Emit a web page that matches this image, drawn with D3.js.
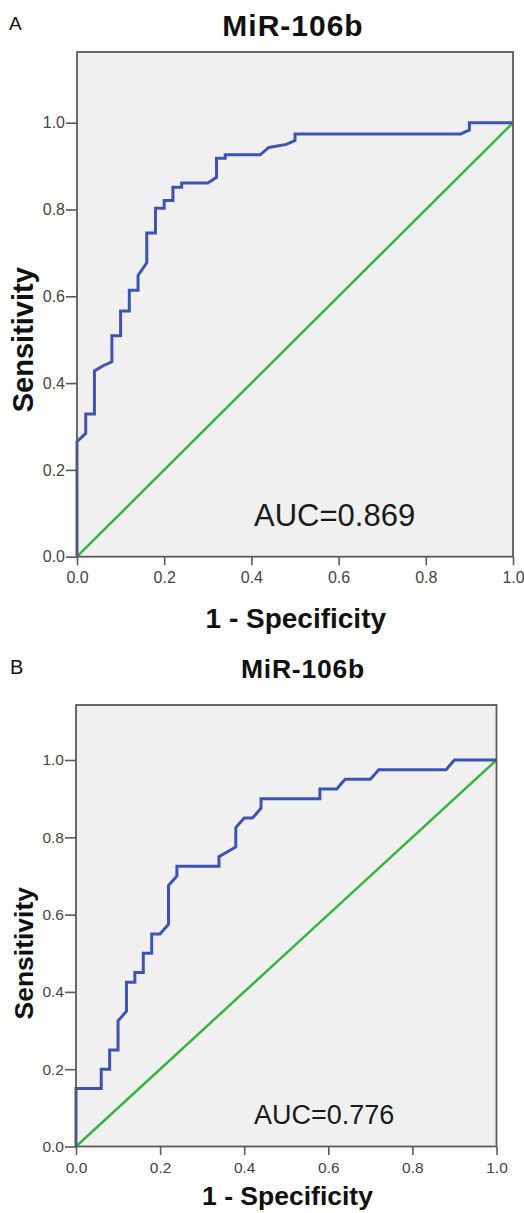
<!DOCTYPE html>
<html>
<head>
<meta charset="utf-8">
<script src="https://cdn.jsdelivr.net/npm/d3@7"></script>
<style>
  html, body { margin: 0; padding: 0; background: #ffffff; }
  svg { display: block; }
  text { font-family: "Liberation Sans", Arial, Helvetica, sans-serif; }
</style>
</head>
<body>
<svg id="chart" width="524" height="1213"></svg>
<script>
// ROC curve, cohort A: false positive rate (1 - specificity) and sensitivity
const fprA  = [0, 0,     0.02,  0.02,  0.04,  0.04,  0.06,  0.08,  0.08,  0.10,  0.10,  0.12,  0.12,  0.14,  0.14,  0.16,  0.16,  0.18,  0.18,  0.20,  0.20,  0.22,  0.22,  0.24,  0.24,  0.30,  0.32,  0.32,  0.34,  0.34,  0.42,  0.44,  0.48,  0.50,  0.50,  0.88,  0.90,  0.90, 1.00];
const sensA = [0, 0.265, 0.284, 0.329, 0.329, 0.428, 0.440, 0.449, 0.509, 0.509, 0.566, 0.566, 0.614, 0.614, 0.648, 0.677, 0.746, 0.746, 0.803, 0.803, 0.821, 0.821, 0.851, 0.851, 0.861, 0.861, 0.874, 0.918, 0.918, 0.926, 0.926, 0.943, 0.950, 0.959, 0.974, 0.974, 0.983, 1.00, 1.00];

// ROC curve, cohort B
const fprB  = [0, 0,    0.06, 0.06, 0.08, 0.08, 0.10, 0.10,  0.12, 0.12,  0.14,  0.14, 0.16, 0.16, 0.18, 0.18, 0.20, 0.22,  0.22,  0.24, 0.24,  0.34,  0.34, 0.38,  0.38,  0.40, 0.42, 0.44,  0.44, 0.58, 0.58,  0.62,  0.64, 0.70, 0.72,  0.88,  0.90, 1.00];
const sensB = [0, 0.15, 0.15, 0.20, 0.20, 0.25, 0.25, 0.325, 0.35, 0.425, 0.425, 0.45, 0.45, 0.50, 0.50, 0.55, 0.55, 0.575, 0.675, 0.70, 0.725, 0.725, 0.75, 0.775, 0.825, 0.85, 0.85, 0.875, 0.90, 0.90, 0.925, 0.925, 0.95, 0.95, 0.975, 0.975, 1.00, 1.00];

// Chance (reference) diagonal
const refFpr  = [0, 1];
const refSens = [0, 1];

const tickValues = [0, 0.2, 0.4, 0.6, 0.8, 1.0];
const panelLetters = ["A", "B"];
const titles = ["MiR-106b", "MiR-106b"];
const aucLabels = ["AUC=0.869", "AUC=0.776"];
const xTitle = "1 - Specificity";
const yTitle = "Sensitivity";

const zip = (xs, ys) => xs.map((x, i) => [x, ys[i]]);

// Layout of each panel (pixels)
const panels = [
  {
    letter: panelLetters[0], title: titles[0], auc: aucLabels[0],
    roc: zip(fprA, sensA),
    x0: 77, x1: 513, y0: 556.7, y1: 122.7, frameTop: 52,
    letterPos: [9, 29.5, 19],
    titlePos: [293, 36, 30, 1],
    aucPos: [254, 525.7, 31],
    xTitlePos: [295.8, 627.7, 28],
    yTitlePos: [33, 29],
    tickFont: 16
  },
  {
    letter: panelLetters[1], title: titles[1], auc: aucLabels[1],
    roc: zip(fprB, sensB),
    x0: 76, x1: 496.5, y0: 1146.5, y1: 760, frameTop: 705,
    letterPos: [10, 673.5, 20],
    titlePos: [303, 678, 26.5, 0.8],
    aucPos: [254, 1124, 27],
    xTitlePos: [287.5, 1205, 26.5],
    yTitlePos: [33, 26.5],
    tickFont: 15.5
  }
];

const svg = d3.select("#chart");
const blue = "#3e54b3";
const green = "#33b53f";
const frameColor = "#5a5a5a";

panels.forEach(p => {
  const g = svg.append("g");
  const x = d3.scaleLinear().domain([0, 1]).range([p.x0, p.x1]);
  const y = d3.scaleLinear().domain([0, 1]).range([p.y0, p.y1]);

  // plot background
  g.append("rect")
    .attr("x", x(0)).attr("y", p.frameTop)
    .attr("width", x(1) - x(0)).attr("height", y(0) - p.frameTop)
    .attr("fill", "#f0f0f0");

  // axes
  const yAxis = d3.axisLeft(y).tickValues(tickValues).tickFormat(d3.format(".1f"))
    .tickSize(11).tickPadding(1);
  const xAxis = d3.axisBottom(x).tickValues(tickValues).tickFormat(d3.format(".1f"))
    .tickSize(8.5).tickPadding(6.5);

  const ya = g.append("g").attr("transform", `translate(${x(0)},0)`).call(yAxis);
  const xa = g.append("g").attr("transform", `translate(0,${y(0)})`).call(xAxis);
  [ya, xa].forEach(a => {
    a.select(".domain").remove();
    a.selectAll(".tick line").attr("stroke", frameColor).attr("stroke-width", 1.6);
    a.selectAll(".tick text")
      .attr("fill", "#444")
      .style("font-size", p.tickFont + "px")
      .style("font-family", '"Liberation Sans", Arial, sans-serif');
  });

  // chance diagonal
  const line = d3.line().x(d => x(d[0])).y(d => y(d[1]));
  g.append("path")
    .datum(zip(refFpr, refSens))
    .attr("d", line)
    .attr("fill", "none")
    .attr("stroke", green)
    .attr("stroke-width", 2.5);

  // ROC curve
  g.append("path")
    .datum(p.roc)
    .attr("d", line)
    .attr("fill", "none")
    .attr("stroke", blue)
    .attr("stroke-width", 3)
    .attr("stroke-linejoin", "miter");

  // frame
  g.append("rect")
    .attr("x", x(0)).attr("y", p.frameTop)
    .attr("width", x(1) - x(0)).attr("height", y(0) - p.frameTop)
    .attr("fill", "none")
    .attr("stroke", frameColor)
    .attr("stroke-width", 1.8);

  // panel letter
  g.append("text")
    .attr("x", p.letterPos[0]).attr("y", p.letterPos[1])
    .style("font-size", p.letterPos[2] + "px")
    .attr("fill", "#111")
    .text(p.letter);

  // title
  g.append("text")
    .attr("x", p.titlePos[0]).attr("y", p.titlePos[1])
    .attr("text-anchor", "middle")
    .style("font-size", p.titlePos[2] + "px")
    .style("letter-spacing", p.titlePos[3] + "px")
    .style("font-weight", "bold")
    .attr("fill", "#111")
    .text(p.title);

  // AUC annotation
  g.append("text")
    .attr("x", p.aucPos[0]).attr("y", p.aucPos[1])
    .style("font-size", p.aucPos[2] + "px")
    .attr("fill", "#1a1a1a")
    .text(p.auc);

  // axis titles
  g.append("text")
    .attr("x", p.xTitlePos[0]).attr("y", p.xTitlePos[1])
    .attr("text-anchor", "middle")
    .style("font-size", p.xTitlePos[2] + "px")
    .style("font-weight", "bold")
    .attr("fill", "#111")
    .text(xTitle);

  g.append("text")
    .attr("transform", `translate(${p.yTitlePos[0]},${y(0.5)}) rotate(-90)`)
    .attr("text-anchor", "middle")
    .style("font-size", p.yTitlePos[1] + "px")
    .style("font-weight", "bold")
    .attr("fill", "#111")
    .text(yTitle);
});
</script>
</body>
</html>
